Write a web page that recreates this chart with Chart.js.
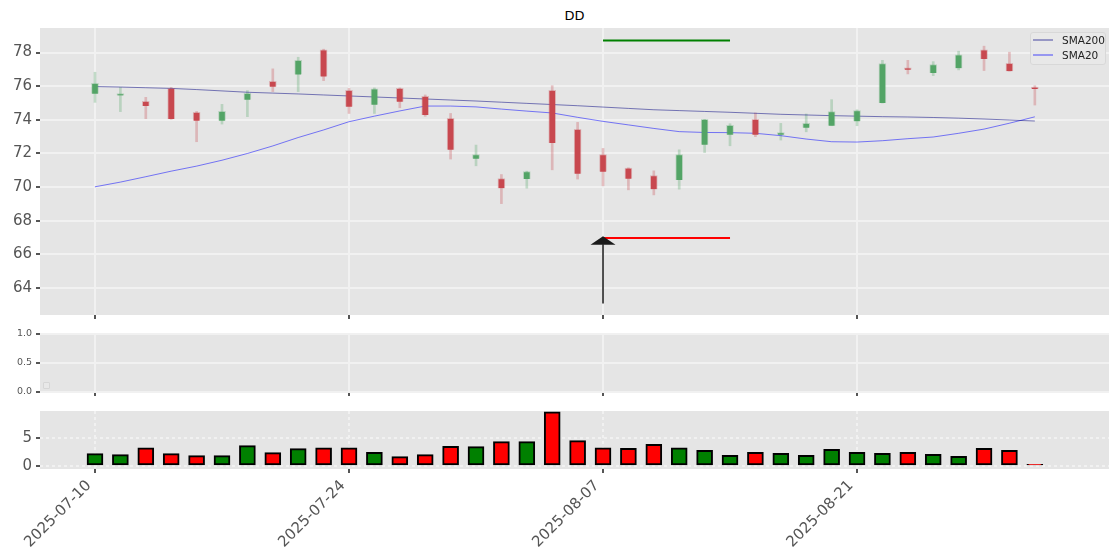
<!DOCTYPE html>
<html><head><meta charset="utf-8">
<script src="https://cdn.jsdelivr.net/npm/chart.js@4.4.1/dist/chart.umd.min.js"></script>
<style>
html,body{margin:0;padding:0;background:#fff;width:1120px;height:560px;overflow:hidden;font-family:'DejaVu Sans',sans-serif;}
canvas{position:absolute;left:0;}
#title{position:absolute;left:0;width:1149px;top:8px;text-align:center;font-size:13px;line-height:16px;color:#000;}
#legend{position:absolute;left:1030px;top:32px;width:74px;height:31px;border:1px solid #d8d8d8;border-radius:3px;background:#e8e8e8;font-size:10.5px;color:#222;}
#legend .ln{position:absolute;left:2px;width:20px;height:2px;}
#legend .tx{position:absolute;left:31px;line-height:12px;white-space:nowrap;}
#emptybox{position:absolute;left:43px;top:382px;width:5px;height:5px;border:1px solid #d6d6d6;border-radius:1px;background:#e8e8e8;}
</style></head><body>
<div id="title">DD</div>
<canvas id="main" style="top:0" width="1120" height="325"></canvas>
<canvas id="mid" style="top:325px" width="1120" height="75"></canvas>
<canvas id="vol" style="top:400px" width="1120" height="160"></canvas>
<div id="emptybox"></div>
<div id="legend">
  <div class="ln" style="top:6px;background:rgba(0,0,128,0.35)"></div><div class="tx" style="top:1px">SMA200</div>
  <div class="ln" style="top:21px;background:rgba(0,0,255,0.35)"></div><div class="tx" style="top:16px">SMA20</div>
</div>
<script>
const dates = ['2025-07-10','2025-07-11','2025-07-14','2025-07-15','2025-07-16','2025-07-17','2025-07-18','2025-07-21','2025-07-22','2025-07-23',
 '2025-07-24','2025-07-25','2025-07-28','2025-07-29','2025-07-30','2025-07-31','2025-08-01','2025-08-04','2025-08-05','2025-08-06',
 '2025-08-07','2025-08-08','2025-08-11','2025-08-12','2025-08-13','2025-08-14','2025-08-15','2025-08-18','2025-08-19','2025-08-20',
 '2025-08-21','2025-08-22','2025-08-25','2025-08-26','2025-08-27','2025-08-28','2025-08-29','2025-09-02'];
const openP  = [75.55,75.45,75.10,75.87,74.44,73.95,75.20,76.29,76.69,78.16,75.75,74.90,75.87,75.40,74.09,71.69,70.51,70.48,75.75,73.43,71.94,71.13,70.69,70.42,72.52,73.12,74.03,73.12,73.53,73.65,73.91,75.02,77.02,76.79,77.07,78.16,77.36,75.88];
const highP  = [76.83,75.93,75.34,75.93,74.50,74.92,75.74,77.03,77.72,78.20,75.87,75.90,75.90,75.48,74.38,72.50,70.75,70.95,76.03,73.85,72.30,71.15,70.97,72.22,74.03,73.77,74.41,73.79,74.35,75.20,74.60,77.54,77.54,77.46,78.08,78.38,78.02,76.03];
const lowP   = [75.04,74.49,74.07,74.03,72.70,73.75,74.19,75.68,75.68,76.33,74.38,74.38,74.72,74.21,71.67,71.27,69.02,69.94,71.03,70.48,70.08,69.84,69.54,69.88,72.06,72.46,73.00,72.80,73.29,73.65,73.65,75.00,76.73,76.63,76.97,76.93,76.90,74.88];
const closeP = [76.17,75.50,74.83,74.05,73.95,74.50,75.58,75.97,77.54,76.57,74.78,75.84,75.08,74.29,72.22,71.94,69.94,70.93,72.62,70.79,70.91,70.50,69.88,71.94,74.03,73.67,73.12,73.20,73.79,74.49,74.55,77.34,76.98,77.29,77.86,77.62,76.91,75.83];
const volume = [2.23,2.05,3.31,2.23,1.87,1.87,3.68,2.41,3.15,3.31,3.31,2.47,1.69,2.05,3.56,3.50,4.40,4.40,9.82,4.58,3.31,3.20,3.92,3.31,2.83,1.93,2.47,2.29,1.93,3.01,2.47,2.29,2.47,2.11,1.75,3.20,2.83,0.30];
const sma200 = [75.98,75.95,75.91,75.87,75.80,75.72,75.64,75.59,75.54,75.48,75.42,75.36,75.30,75.24,75.18,75.12,75.05,74.98,74.91,74.84,74.76,74.68,74.60,74.55,74.50,74.45,74.39,74.33,74.29,74.25,74.22,74.19,74.17,74.14,74.10,74.05,73.99,73.93];
const sma20  = [70.02,70.30,70.62,70.95,71.25,71.60,72.00,72.45,72.95,73.40,73.89,74.22,74.53,74.82,74.82,74.77,74.64,74.52,74.41,74.15,73.91,73.70,73.49,73.30,73.25,73.24,73.20,73.06,72.86,72.70,72.68,72.76,72.88,72.98,73.20,73.45,73.80,74.18];
const tickIdx = [0,10,20,30];
const priceTicks = [64,66,68,70,72,74,76,78];
const midTicks = [0,0.5,1];
const volTicks = [0,5];
const signalIdx = 20, signalEnd = 25;
const arrowFrom = 63.09, arrowTo = 67.08;
const stopLevel = 66.98, targetLevel = 78.71;

Chart.defaults.font.family = "'DejaVu Sans', sans-serif";
Chart.defaults.color = '#555';
const xMin = -2.165, xMax = 39.92;
const gridColor = '#f1f1f1';
const up = i => closeP[i] >= openP[i];
const GREEN='rgb(83,164,102)', RED='rgb(200,72,79)';
const GREENA='rgba(83,164,102,0.3)', REDA='rgba(200,72,79,0.3)';
const idx = dates.map((d,i)=>i);

function xScale(show, h){
  return {type:'linear', min:xMin, max:xMax, offset:false,
    afterBuildTicks: s => { s.ticks = tickIdx.map(v=>({value:v})); },
    afterFit: s => { s.height = h; s.paddingLeft = 0; s.paddingRight = 0; },
    grid:{color:gridColor, lineWidth:2, offset:false, tickColor:'#555', tickLength:4},
    border:{display:false},
    ticks:{display:show, autoSkip:false, minRotation:45, maxRotation:45, color:'#555', font:{size:15}, padding:4, labelOffset:-6,
      callback: v => dates[v]}};
}
function yScale(min,max,ticks,size,fmt,dash){
  return {type:'linear', min:min, max:max,
    afterBuildTicks: s => { s.ticks = ticks.map(v=>({value:v})); },
    afterFit: s => { s.width = 40; s.paddingTop = 0; s.paddingBottom = 0; },
    grid:{color:gridColor, lineWidth:2, tickColor:'#555', tickLength:4},
    border:{display:false, dash:dash||[]},
    ticks:{color:'#555', font:{size:size}, padding:4, callback: fmt}};
}
const bgPlugin = {id:'bg', beforeDraw(chart){ const a=chart.chartArea, c=chart.ctx; c.save(); c.fillStyle='#e5e5e5'; c.fillRect(a.left,a.top,a.right-a.left,a.bottom-a.top); c.restore(); }};
const arrowPlugin = {id:'arrow', afterDatasetsDraw(chart){
  const c=chart.ctx, x=chart.scales.x, y=chart.scales.y;
  const px=x.getPixelForValue(signalIdx), y0=y.getPixelForValue(arrowFrom), y1=y.getPixelForValue(arrowTo);
  c.save(); c.strokeStyle='#1a1a1a'; c.fillStyle='#1a1a1a'; c.lineWidth=1.5;
  c.beginPath(); c.moveTo(px,y0); c.lineTo(px,y1+8); c.stroke();
  c.beginPath(); c.moveTo(px-12.5,y1+8.4); c.lineTo(px,y1); c.lineTo(px+12.5,y1+8.4); c.closePath(); c.fill();
  c.restore(); }};
const common = {responsive:false, animation:false, plugins:{legend:{display:false}, tooltip:{enabled:false}, title:{display:false}}};

new Chart(document.getElementById('main'), {
  type:'bar',
  data:{datasets:[
    {type:'bar', order:0, grouped:false, barThickness:7, borderWidth:1, minBarLength:2,
     data: idx.map(i=>({x:i, y:[openP[i], closeP[i]]})),
     backgroundColor: idx.map(i=>up(i)?GREEN:RED), borderColor: idx.map(i=>up(i)?GREENA:REDA)},
    {type:'line', order:1, label:'SMA200', data: idx.map(i=>({x:i,y:sma200[i]})), borderColor:'rgba(0,0,128,0.5)', borderWidth:1, pointRadius:0, tension:0},
    {type:'line', order:1, label:'SMA20', data: idx.map(i=>({x:i,y:sma20[i]})), borderColor:'rgba(0,0,255,0.5)', borderWidth:1, pointRadius:0, tension:0},
    {type:'line', order:1, data:[{x:signalIdx,y:stopLevel},{x:signalEnd,y:stopLevel}], borderColor:'#ff0000', borderWidth:2, pointRadius:0},
    {type:'line', order:1, data:[{x:signalIdx,y:targetLevel},{x:signalEnd,y:targetLevel}], borderColor:'#008000', borderWidth:2, pointRadius:0},
    {type:'bar', order:2, grouped:false, barThickness:2,
     data: idx.map(i=>({x:i, y:[lowP[i], highP[i]]})),
     backgroundColor: idx.map(i=>up(i)?GREENA:REDA)}
  ]},
  options:Object.assign({}, common, {layout:{padding:{left:0,right:11,top:28,bottom:0}},
    scales:{x:xScale(false,10), y:yScale(62.40,79.46,priceTicks,15,v=>String(v))}}),
  plugins:[bgPlugin, arrowPlugin]
});

new Chart(document.getElementById('mid'), {
  type:'line',
  data:{datasets:[{data:[], pointRadius:0}]},
  options:Object.assign({}, common, {layout:{padding:{left:0,right:11,top:9,bottom:0}},
    scales:{x:xScale(false,8), y:yScale(0,1,midTicks,9.5,v=>v.toFixed(1))}}),
  plugins:[bgPlugin]
});

new Chart(document.getElementById('vol'), {
  type:'bar',
  data:{datasets:[{type:'bar', grouped:false, barThickness:16, borderWidth:2, borderColor:'#000', borderSkipped:false,
    data: idx.map(i=>({x:i, y:volume[i]})),
    backgroundColor: idx.map(i=>up(i)?'#008000':'#ff0000')}]},
  options:Object.assign({}, common, {layout:{padding:{left:0,right:11,top:11,bottom:0}},
    scales:{x:Object.assign(xScale(true,91),{border:{display:false,dash:[3,3]}}), y:yScale(-0.54,9.95,volTicks,15,v=>String(v),[3,3])}}),
  plugins:[bgPlugin]
});
</script>
</body></html>
